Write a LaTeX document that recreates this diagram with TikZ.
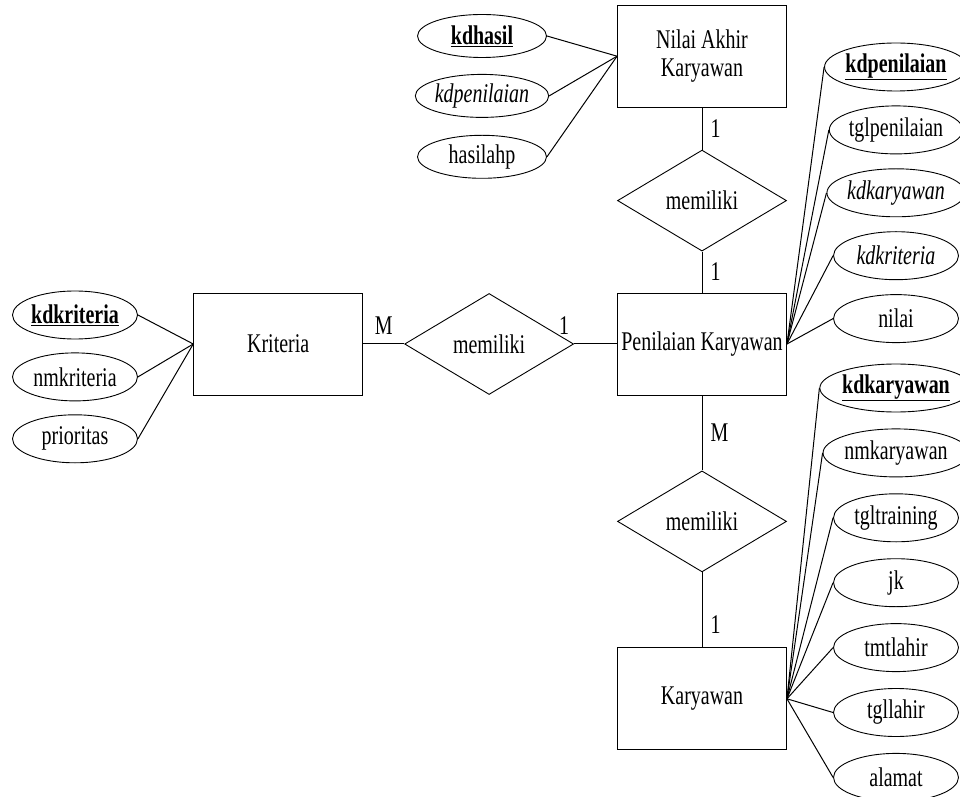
\documentclass[tikz,border=0pt]{standalone}
\usepackage{fontspec}
\setmainfont{Liberation Serif}[FakeStretch=0.74]
\usetikzlibrary{positioning,shapes.geometric}
\newcommand{\erfont}{\fontsize{27}{28}\selectfont}
\newcommand{\pkey}[1]{\underline{\textbf{#1}}}
\tikzset{entity/.style={draw,line width=0.9pt,minimum width=169pt,minimum height=102pt,inner sep=0pt,align=center,font=\erfont},rel/.style={draw,line width=0.9pt,diamond,aspect=1.7,minimum width=169pt,minimum height=101pt,inner sep=0pt,font=\erfont},attr/.style={draw,line width=0.9pt,ellipse,minimum width=125pt,minimum height=48pt,inner sep=0pt,font=\erfont},conn/.style={line width=1pt},card/.style={font=\erfont,inner sep=2pt}}

\begin{document}
\begin{tikzpicture}[x=1pt,y=1pt]
\useasboundingbox (0,0) rectangle (960,796);
% entities and relationships
\node[entity] (penilaian) at (702,452) {Penilaian Karyawan};
\node[rel,above=41pt of penilaian] (relhasil) {memiliki};
\node[entity,above=42pt of relhasil] (hasil) {Nilai Akhir\\Karyawan};
\node[rel,below=75pt of penilaian] (relkaryawan) {memiliki};
\node[entity,below=75pt of relkaryawan] (karyawan) {Karyawan};
\node[rel,left=43pt of penilaian] (relkriteria) {memiliki};
\node[entity,left=41pt of relkriteria] (kriteria) {Kriteria};
% attributes of Nilai Akhir Karyawan
\node[attr,minimum width=129pt,minimum height=43pt] (hkd) at (482,760) {\pkey{kdhasil}};
\node[attr,minimum width=129pt,minimum height=43pt,below=16pt of hkd] (hpen) {\textit{kdpenilaian}};
\node[attr,minimum width=129pt,minimum height=43pt,below=17pt of hpen] (hahp) {hasilahp};
% attributes of Penilaian Karyawan
\node[attr] (pkd) at (896,729) {\pkey{kdpenilaian}};
\node[attr,below=14pt of pkd] (ptgl) {tglpenilaian};
\node[attr,below=14pt of ptgl] (pkar) {\textit{kdkaryawan}};
\node[attr,below=14pt of pkar] (pkri) {\textit{kdkriteria}};
\node[attr,below=14pt of pkri] (pnil) {nilai};
% attributes of Karyawan
\node[attr] (kkd) at (896,408) {\pkey{kdkaryawan}};
\node[attr,below=16pt of kkd] (knm) {nmkaryawan};
\node[attr,below=16pt of knm] (ktr) {tgltraining};
\node[attr,below=16pt of ktr] (kjk) {jk};
\node[attr,below=16pt of kjk] (ktmt) {tmtlahir};
\node[attr,below=16pt of ktmt] (ktgl) {tgllahir};
\node[attr,below=16pt of ktgl] (kal) {alamat};
% attributes of Kriteria
\node[attr] (rkd) at (75,481) {\pkey{kdkriteria}};
\node[attr,below=13pt of rkd] (rnm) {nmkriteria};
\node[attr,below=13pt of rnm] (rpr) {prioritas};
% relationships
\draw[conn] (hasil) -- node[card,right=6pt] (c1) {1} (relhasil);
\draw[conn] (relhasil) -- node[card,right=6pt] (c2) {1} (penilaian);
\draw[conn] (penilaian) -- node[card,right=6pt] (c3) {M} (relkaryawan);
\draw[conn] (relkaryawan) -- node[card,right=6pt,pos=0.69] (c4) {1} (karyawan);
\draw[conn] (kriteria) -- node[card,above=7pt] (c5) {M} (relkriteria);
\draw[conn] (relkriteria) -- node[card,pos=0,above=7pt,xshift=-10pt] (c6) {1} (penilaian);
% attribute lines
\foreach \a in {hkd,hpen,hahp} \draw[conn] (hasil.west) -- (\a.east);
\foreach \a in {pkd,ptgl,pkar,pkri,pnil} \draw[conn] (penilaian.east) -- (\a.west);
\foreach \a in {kkd,knm,ktr,kjk,ktmt,ktgl,kal} \draw[conn] (karyawan.east) -- (\a.west);
\foreach \a in {rkd,rnm,rpr} \draw[conn] (kriteria.west) -- (\a.east);
\end{tikzpicture}
\end{document}
